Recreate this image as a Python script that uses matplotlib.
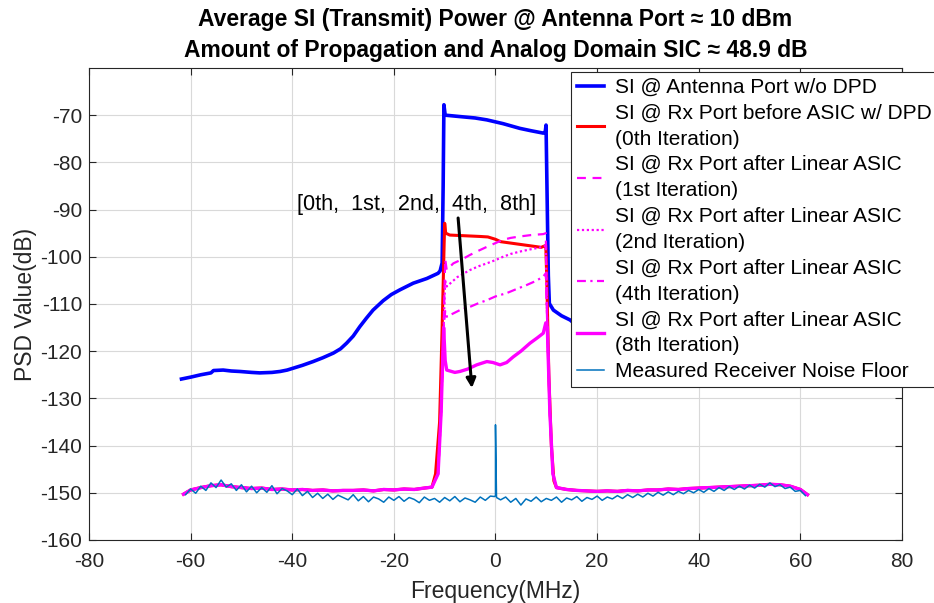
import numpy as np
import matplotlib
matplotlib.use("Agg")
import matplotlib.pyplot as plt

plt.rcParams['font.family'] = ['Liberation Sans', 'DejaVu Sans']
plt.rcParams['axes.unicode_minus'] = False

# ---- data (frequency in MHz, PSD in dB) ----
# SI at antenna port without DPD
ant_f = [-61.8, -60, -58, -56, -55.5, -53.6, -52, -50.3, -48, -46.4, -44, -42.4, -41, -39.8,
         -38, -35.9, -34, -31.9, -30.5, -29.3, -28, -26.7, -25.4, -24.1, -22.1, -20.5, -18.8,
         -16.2, -13.5, -11.3, -10.9, -10.5, -10.3, -10.15, -9.9, -7, -4, -1.7, 1.5, 4.8, 7,
         9.4, 9.8, 9.95, 10.2, 10.4, 10.6, 11.4, 13, 14.7, 17, 20, 25, 30, 35, 40, 45, 50, 55,
         60, 61.4]
ant_db = [-125.9, -125.5, -125.0, -124.6, -124.1, -124.0, -124.2, -124.3, -124.5, -124.6,
          -124.5, -124.3, -124.0, -123.6, -123.0, -122.2, -121.4, -120.4, -119.5, -118.3,
          -116.8, -114.8, -113.0, -111.3, -109.3, -108.0, -107.0, -105.6, -104.6, -103.5,
          -103.0, -101.3, -85.0, -67.8, -70.0, -70.3, -70.6, -71.0, -71.8, -72.8, -73.3,
          -73.8, -73.5, -72.1, -90.0, -104.0, -109.9, -111.3, -112.5, -113.4, -115.5, -117.0,
          -120.0, -122.0, -123.5, -124.2, -124.5, -124.3, -124.3, -125.3, -125.9]

# out-of-band floor seen after the Rx port (shared by red / magenta traces)
oob_left_f = [-61.4, -60, -58, -56, -54, -52, -50, -48, -46, -44, -42, -40, -38, -36, -34,
              -32, -30, -28, -26, -24, -22, -20, -18, -16, -14, -12.5]
oob_left_db = [-150.3, -149.4, -148.9, -148.5, -148.3, -148.7, -148.9, -149.1, -149.0,
               -149.3, -149.2, -149.4, -149.3, -149.5, -149.4, -149.6, -149.5, -149.5,
               -149.4, -149.6, -149.3, -149.4, -149.2, -149.3, -149.0, -148.8]
oob_right_f = [12, 14, 16, 18, 20, 22, 24, 26, 28, 30, 32, 34, 36, 38, 40, 42, 44, 46, 48,
               50, 52, 54, 56, 58, 60, 61.4]
oob_right_db = [-148.9, -149.3, -149.5, -149.6, -149.7, -149.6, -149.7, -149.5, -149.6,
                -149.4, -149.4, -149.2, -149.3, -149.1, -149.0, -148.9, -148.8, -148.7,
                -148.6, -148.5, -148.4, -148.2, -148.3, -148.6, -149.3, -150.4]

# band edges (rising / falling skirts)
red_up_f = [-11.8, -11.0, -10.5, -10.1]
red_up_db = [-146.0, -135.0, -115.0, -97.0]
red_dn_f = [10.1, 10.5, 11.0, 11.5]
red_dn_db = [-105.0, -125.0, -140.0, -147.5]
mag_up_f = [-11.3, -10.7, -10.2]
mag_up_db = [-146.0, -133.0, -115.0]
mag_dn_f = [10.2, 10.7, 11.3]
mag_dn_db = [-115.0, -133.0, -146.0]

# in-band residual SI
it0_f = [-10.0, -9.8, -9.0, -7, -5, -3, -1.5, 0, 1, 3, 5, 7, 9, 9.9]
it0_db = [-92.9, -95.0, -95.4, -95.5, -95.6, -95.7, -95.8, -96.3, -96.8, -97.1, -97.4,
          -97.7, -98.0, -97.6]
it1_f = [-9.9, -9.6, -8.3, -6.5, -5.0, -3.3, -1.7, 0, 1.5, 3, 4.8, 7, 9.4, 9.9]
it1_db = [-100.5, -102.8, -101.4, -100.5, -99.6, -98.7, -97.9, -97.1, -96.4, -96.0, -95.7,
          -95.4, -95.2, -95.0]
it2_f = [-9.9, -9.6, -7.5, -5.0, -3.3, -1.7, 0, 1.5, 3, 4.8, 7, 9.4, 9.9]
it2_db = [-105.0, -106.3, -104.3, -102.8, -102.0, -101.4, -100.7, -100.0, -99.4, -98.9,
          -98.4, -97.9, -97.6]
it4_f = [-9.9, -9.6, -7.0, -5, -3.5, -1.7, 0, 2.2, 4, 6.1, 8, 9.4, 9.9]
it4_db = [-111.5, -112.7, -111.3, -110.6, -109.9, -109.2, -108.4, -107.7, -106.9, -106.0,
          -105.1, -104.2, -103.5]
it8_f = [-9.9, -9.6, -8, -7.0, -5.5, -3.7, -1.7, -0.5, 0.9, 2.2, 3.5, 5, 6.8, 8.2, 9.4, 9.9]
it8_db = [-122.0, -124.0, -124.5, -124.3, -123.8, -122.9, -122.2, -122.4, -122.9, -122.4,
          -121.2, -120.0, -118.3, -117.2, -116.2, -114.0]

# measured receiver noise floor, one value per MHz from -61 to 61
nf_f = list(range(-61, 62))
nf_db = [-150.4, -149.2, -150.1, -148.6, -149.5, -147.9, -148.9, -147.3, -148.8, -148.1, -149.5, -148.3,
         -149.8, -148.6, -150.0, -148.9, -149.9, -148.5, -150.2, -149.1, -149.6, -150.4,
         -149.2, -150.6, -149.7, -151.0, -150.1, -151.2, -150.3, -151.4, -150.5, -151.0,
         -151.5, -150.4, -151.7, -150.8, -151.9, -150.9, -151.3, -152.0, -150.9, -151.6,
         -150.8, -151.8, -151.0, -151.4, -152.1, -150.9, -151.6, -151.2, -152.0, -151.0,
         -151.7, -150.8, -151.9, -151.1, -151.5, -152.0, -150.9, -151.6, -150.7,
         -150.6,
         -151.5, -150.9, -152.0, -151.2, -152.6, -151.3, -151.8, -150.9, -151.9, -151.2,
         -151.6, -150.9, -152.0, -151.1, -151.5, -150.8, -151.8, -151.0, -151.4, -150.7,
         -151.6, -150.9, -151.3, -150.6, -151.2, -150.4, -151.0, -150.3, -150.9, -150.1,
         -150.7, -149.9, -150.5, -149.8, -150.4, -149.7, -150.2, -149.5, -150.0, -149.3,
         -149.9, -149.1, -149.7, -148.9, -149.5, -148.7, -149.3, -148.6, -149.2, -148.4,
         -149.0, -148.2, -148.8, -147.9, -148.7, -148.3, -149.1, -148.8, -149.7, -149.5, -150.6]
nf_spike_f = [-0.2, 0.0, 0.2]
nf_spike_db = [-150.8, -135.6, -151.0]

labels = ['SI @ Antenna Port w/o DPD',
          'SI @ Rx Port before ASIC w/ DPD\n(0th Iteration)',
          'SI @ Rx Port after Linear ASIC\n(1st Iteration)',
          'SI @ Rx Port after Linear ASIC\n(2nd Iteration)',
          'SI @ Rx Port after Linear ASIC\n(4th Iteration)',
          'SI @ Rx Port after Linear ASIC\n(8th Iteration)',
          'Measured Receiver Noise Floor']


def full_trace(up_f, up_db, f, db, dn_f, dn_db):
    ff = oob_left_f + up_f + f + dn_f + oob_right_f
    dd = oob_left_db + up_db + db + dn_db + oob_right_db
    return ff, dd


fig = plt.figure(figsize=(9.34, 6.03), dpi=100)
ax = fig.add_axes([0.0953, 0.1045, 0.8704, 0.7828])

ax.plot(ant_f, ant_db, color=(0, 0, 1), lw=2.6, label=labels[0], zorder=3)

f0, d0 = full_trace(red_up_f, red_up_db, it0_f, it0_db, red_dn_f, red_dn_db)
ax.plot(f0, d0, color=(1, 0, 0), lw=2.2, label=labels[1], zorder=4)

mag = (1, 0, 1)
f1, d1 = full_trace(mag_up_f, mag_up_db, it1_f, it1_db, mag_dn_f, mag_dn_db)
ax.plot(f1, d1, color=mag, lw=1.6, ls=(0, (4, 3)), label=labels[2], zorder=5)
f2, d2 = full_trace(mag_up_f, mag_up_db, it2_f, it2_db, mag_dn_f, mag_dn_db)
ax.plot(f2, d2, color=mag, lw=1.6, ls=(0, (1, 1.2)), label=labels[3], zorder=5)
f4, d4 = full_trace(mag_up_f, mag_up_db, it4_f, it4_db, mag_dn_f, mag_dn_db)
ax.plot(f4, d4, color=mag, lw=1.6, ls=(0, (4, 2, 1, 2)), label=labels[4], zorder=5)
f8, d8 = full_trace(mag_up_f, mag_up_db, it8_f, it8_db, mag_dn_f, mag_dn_db)
ax.plot(f8, d8, color=mag, lw=2.4, label=labels[5], zorder=6)

nf = sorted(zip(nf_f + nf_spike_f, nf_db + nf_spike_db))
ax.plot([p[0] for p in nf], [p[1] for p in nf], color=(0, 0.447, 0.741), lw=1.1,
        label=labels[6], zorder=7)

# iteration annotation
ax.text(-15.6, -89.0, '[0th,  1st,  2nd,  4th,  8th]', fontsize=15.6, ha='center', va='center',
        zorder=8)
ax.annotate('', xy=(-4.6, -128.4), xytext=(-7.4, -91.2),
            arrowprops=dict(arrowstyle='-|>', color='black', lw=2.2, mutation_scale=14),
            zorder=8)

ax.set_xlim(-80, 80)
ax.set_ylim(-160, -60)
ax.set_xticks(np.arange(-80, 81, 20))
ax.set_yticks(np.arange(-160, -69, 10))
ax.grid(True, color='#d9d9d9', lw=0.8)
ax.set_axisbelow(True)
ax.tick_params(direction='in', length=5, labelsize=15, colors='#262626', top=True, right=True)
ax.tick_params(axis='x', pad=9)
ax.tick_params(axis='y', pad=5)
for s in ax.spines.values():
    s.set_color('#262626')
    s.set_linewidth(0.8)

ax.set_xlabel('Frequency(MHz)', fontsize=16.5, color='#262626', labelpad=6)
ax.set_ylabel('PSD Value(dB)', fontsize=16.5, color='#262626', labelpad=2)
ax.set_title('Average SI (Transmit) Power @ Antenna Port \u2248 10 dBm\n'
             'Amount of Propagation and Analog Domain SIC \u2248 48.9 dB',
             fontsize=16.5, fontweight='bold', pad=8, linespacing=1.45)

leg = ax.legend(loc='upper left', bbox_to_anchor=(571 / 934, 1 - 72 / 603),
                bbox_transform=fig.transFigure, fontsize=15, frameon=True, fancybox=False,
                framealpha=1, edgecolor='#262626', borderpad=0.28, labelspacing=0.32,
                handlelength=1.3, handletextpad=0.55, borderaxespad=0)
for t in leg.get_texts():
    t.set_linespacing(1.47)
leg.get_frame().set_linewidth(0.8)
leg.set_zorder(10)

fig.savefig('out.png', dpi=100)
